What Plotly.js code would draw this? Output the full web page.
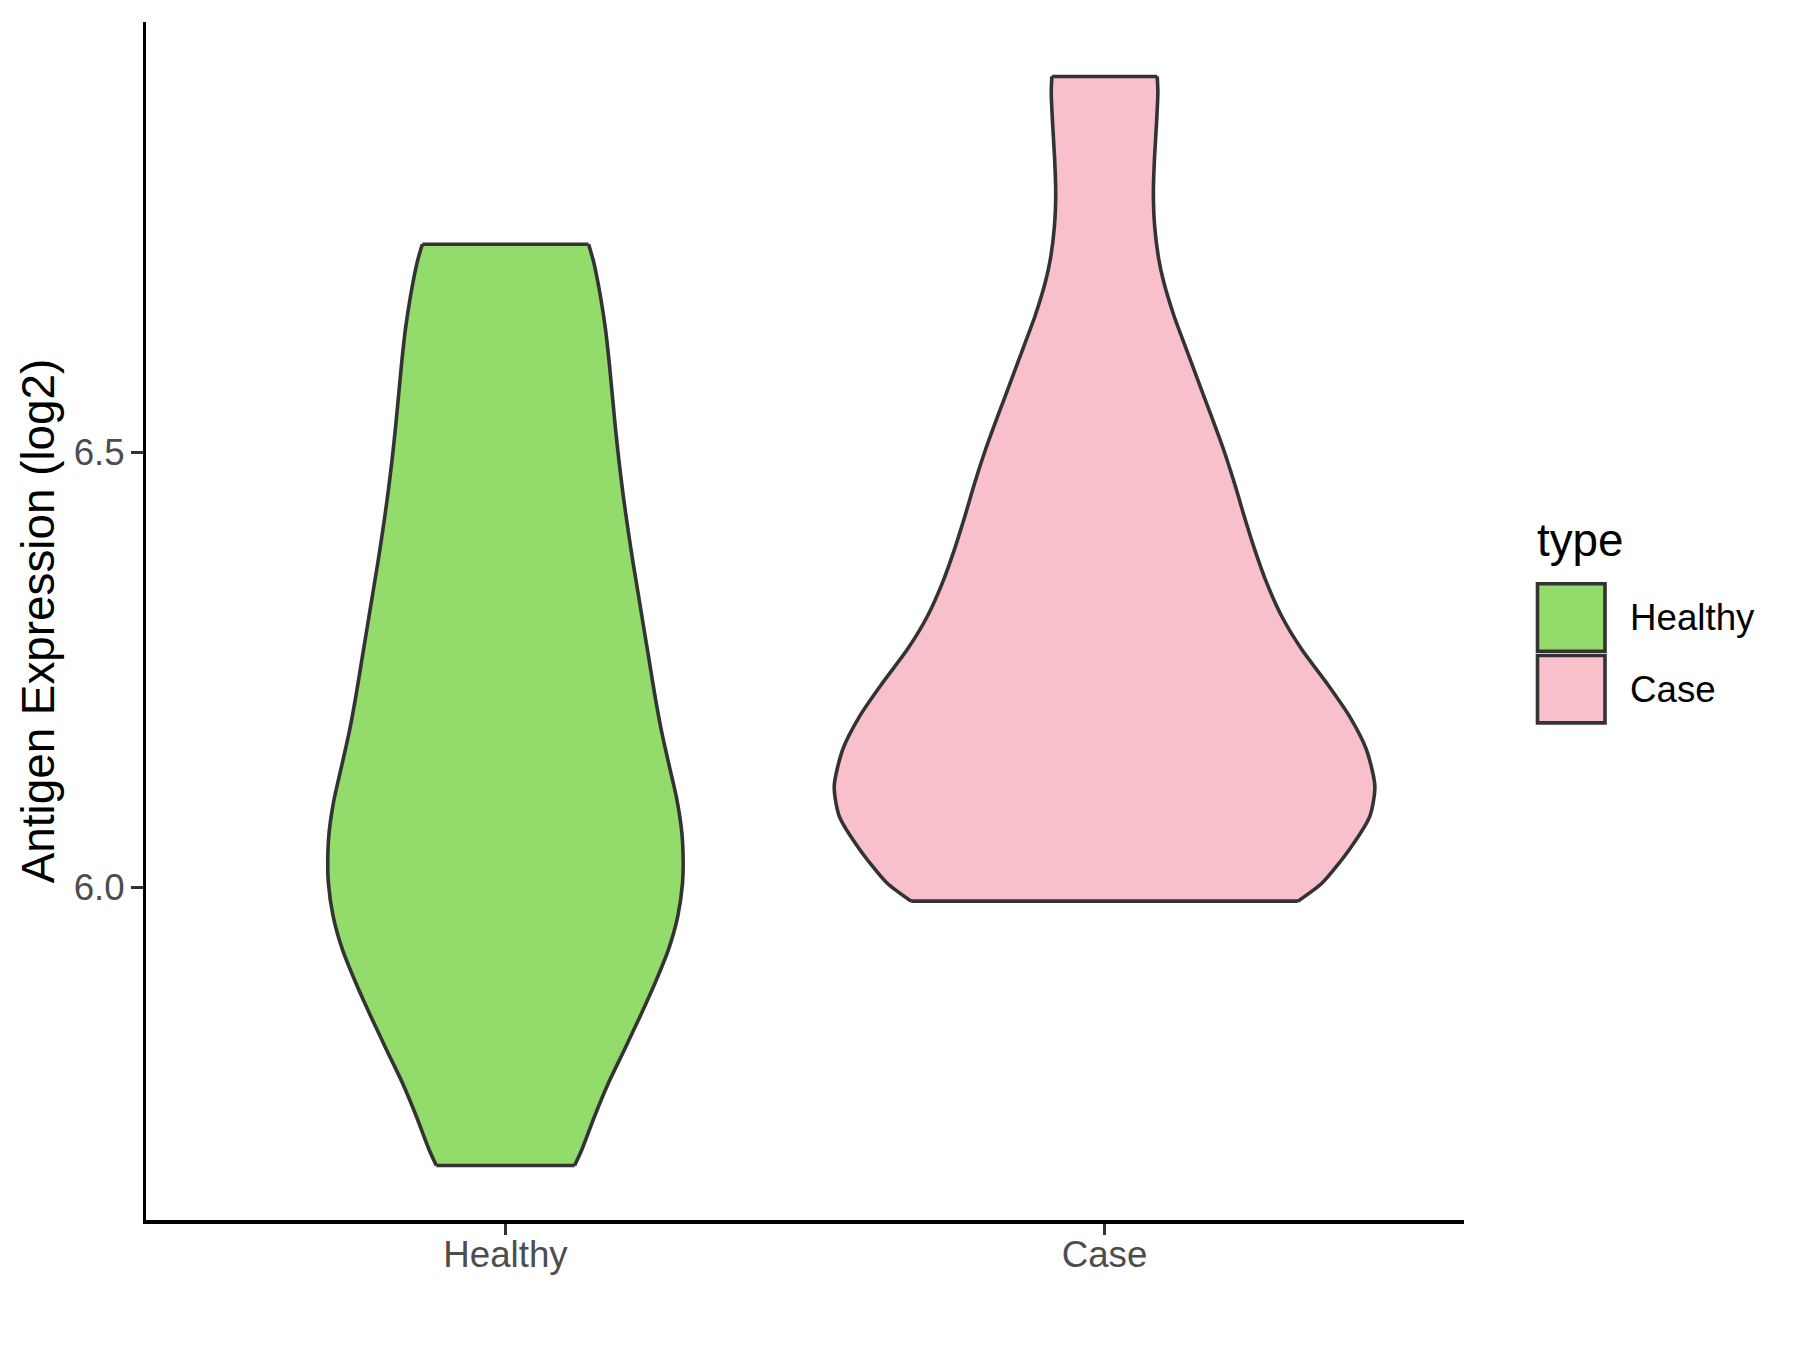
<!DOCTYPE html>
<html>
<head>
<meta charset="utf-8">
<script src="https://cdn.plot.ly/plotly-3.0.1.min.js"></script>
<style>
  html, body { margin: 0; padding: 0; background: #ffffff; }
  #chart { width: 1800px; height: 1350px; }
</style>
</head>
<body>
<div id="chart"></div>
<script>
// ---- data ----
const categories = ['Healthy', 'Case'];
const yTickValues = [6.0, 6.5];
const yTickLabels = ['6.0', '6.5'];
const legendTitle = 'type';
const yAxisTitle = 'Antigen Expression (log2)';

// violin outlines: expression value (bottom -> top) and half-width (in category units)
const healthyY = [5.6802, 5.6986, 5.7369, 5.7754, 5.8137, 5.8520, 5.8904, 5.9287, 5.9670, 6.0054,
                  6.0322, 6.0629, 6.1012, 6.1395, 6.1779, 6.2185, 6.2585, 6.2968, 6.3351, 6.3735,
                  6.4118, 6.4501, 6.4885, 6.5268, 6.5651, 6.6035, 6.6418, 6.6801, 6.7185, 6.7396];
const healthyHalfWidth = [0.1154, 0.1276, 0.1488, 0.1721, 0.1988, 0.2249, 0.2499, 0.2722, 0.2877, 0.2956,
                          0.2966, 0.2944, 0.2861, 0.2735, 0.2610, 0.2500, 0.2405, 0.2313, 0.2222, 0.2130,
                          0.2045, 0.1967, 0.1898, 0.1838, 0.1785, 0.1732, 0.1670, 0.1585, 0.1475, 0.1388];

const caseY = [5.9842, 6.0054, 6.0437, 6.0820, 6.1165, 6.1587, 6.1970, 6.2355, 6.2738, 6.3121,
               6.3505, 6.3888, 6.4271, 6.4655, 6.5038, 6.5421, 6.5805, 6.6188, 6.6571, 6.6955,
               6.7223, 6.7606, 6.7991, 6.8374, 6.8757, 6.9141, 6.9325];
const caseHalfWidth = [0.3228, 0.3636, 0.4087, 0.4429, 0.4512, 0.4370, 0.4087, 0.3703, 0.3290, 0.2955,
                       0.2705, 0.2505, 0.2330, 0.2165, 0.1985, 0.1782, 0.1573, 0.1366, 0.1160, 0.0990,
                       0.0905, 0.0836, 0.0815, 0.0833, 0.0865, 0.0890, 0.0879];

// ---- styles ----
const fillColors = ['#93DB6B', '#F7C0CB'];
const outlineColor = '#333333';
const FONT = '"Liberation Sans", Arial, Helvetica, sans-serif';

const series = [
  {name: categories[0], y: healthyY, hw: healthyHalfWidth},
  {name: categories[1], y: caseY, hw: caseHalfWidth}
];

const traces = [];
series.forEach((s, i) => {
  const pos = i + 1;
  const n = s.y.length;
  const fx = [], fy = [];
  for (let k = 0; k < n; k++) { fx.push(pos - s.hw[k]); fy.push(s.y[k]); }
  for (let k = n - 1; k >= 0; k--) { fx.push(pos + s.hw[k]); fy.push(s.y[k]); }
  fx.push(fx[0]); fy.push(fy[0]);
  traces.push({
    type: 'scatter', mode: 'lines', x: fx, y: fy, fill: 'toself',
    fillcolor: fillColors[i], line: {width: 0, color: fillColors[i]},
    name: s.name, showlegend: false, hoverinfo: 'skip'
  });
  // outline: left side, right side, top, bottom (each its own segment)
  const ox = [], oy = [];
  for (let k = 0; k < n; k++) { ox.push(pos - s.hw[k]); oy.push(s.y[k]); }
  ox.push(null); oy.push(null);
  for (let k = 0; k < n; k++) { ox.push(pos + s.hw[k]); oy.push(s.y[k]); }
  ox.push(null); oy.push(null);
  ox.push(pos - s.hw[n - 1], pos + s.hw[n - 1]); oy.push(s.y[n - 1], s.y[n - 1]);
  ox.push(null); oy.push(null);
  ox.push(pos - s.hw[0], pos + s.hw[0]); oy.push(s.y[0], s.y[0]);
  traces.push({
    type: 'scatter', mode: 'lines', x: ox, y: oy, connectgaps: false,
    line: {color: outlineColor, width: 3.6, shape: 'spline', smoothing: 0.7},
    showlegend: false, hoverinfo: 'skip'
  });
});

// y range: data range expanded by 5%
const allY = healthyY.concat(caseY);
const yMin = Math.min(...allY), yMax = Math.max(...allY);
const pad = 0.05 * (yMax - yMin);

// plot area in pixels
const L = 146, R = 1464, T = 22, B = 1220.5;
const W = 1800, H = 1350;
const px = v => (v - L) / (R - L);
const py = v => (B - v) / (B - T);

const shapes = [];
const annotations = [];
// legend (ggplot-style keys)
const keyTops = [584, 655.7];
const keyH = 67.5;
categories.forEach((c, i) => {
  shapes.push({
    type: 'rect', xref: 'paper', yref: 'paper',
    x0: px(1537.5), x1: px(1605), y0: py(keyTops[i] + keyH), y1: py(keyTops[i]),
    fillcolor: fillColors[i], line: {color: outlineColor, width: 3.6}
  });
  annotations.push({
    xref: 'paper', yref: 'paper', x: px(1628), y: py(keyTops[i] + keyH / 2),
    xanchor: 'left', yanchor: 'middle', showarrow: false, text: c,
    font: {family: FONT, size: 36.7, color: '#000000'}
  });
});
annotations.push({
  xref: 'paper', yref: 'paper', x: px(1535), y: py(541),
  xanchor: 'left', yanchor: 'middle', showarrow: false, text: legendTitle,
  font: {family: FONT, size: 45.8, color: '#000000'}
});

const layout = {
  width: W, height: H,
  margin: {l: L, r: W - R, t: T, b: H - B, pad: 0},
  paper_bgcolor: '#ffffff', plot_bgcolor: '#ffffff',
  showlegend: false,
  font: {family: FONT},
  xaxis: {
    type: 'linear', range: [0.4, 2.6],
    tickvals: categories.map((c, i) => i + 1), ticktext: categories,
    showgrid: false, zeroline: false,
    showline: true, linecolor: '#000000', linewidth: 3.5,
    ticks: 'outside', ticklen: 11.5, tickwidth: 3, tickcolor: outlineColor,
    tickfont: {family: FONT, size: 36.7, color: '#4D4D4D'},
    ticklabelstandoff: -12,
    fixedrange: true
  },
  yaxis: {
    range: [yMin - pad, yMax + pad],
    tickvals: yTickValues, ticktext: yTickLabels,
    showgrid: false, zeroline: false,
    showline: true, linecolor: '#000000', linewidth: 3.5,
    ticks: 'outside', ticklen: 11.5, tickwidth: 3, tickcolor: outlineColor,
    tickfont: {family: FONT, size: 36.7, color: '#4D4D4D'},
    ticklabelstandoff: -1,
    title: {text: yAxisTitle, font: {family: FONT, size: 45.8, color: '#000000'}, standoff: 5},
    automargin: false,
    fixedrange: true
  },
  shapes: shapes,
  annotations: annotations
};

Plotly.newPlot('chart', traces, layout, {displayModeBar: false, staticPlot: true});
</script>
</body>
</html>
